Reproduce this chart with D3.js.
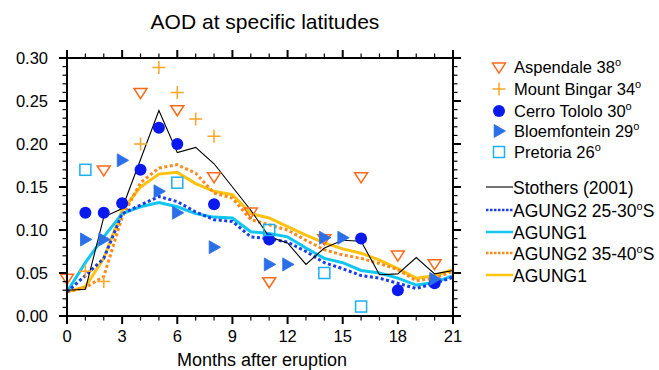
<!DOCTYPE html>
<html>
<head>
<meta charset="utf-8">
<script src="https://cdn.jsdelivr.net/npm/d3@7"></script>
<style>
  body { margin: 0; background: #fff; }
  svg { font-family: "Liberation Sans", Arial, sans-serif; }
</style>
</head>
<body>
<div id="container"></div>
<script>
// months 0..21
const months = d3.range(0, 22);

const stothers = [0.030, 0.031, 0.115, 0.125, 0.182, 0.239, 0.190, 0.196, 0.177, 0.150, 0.123, 0.092,
  0.085, 0.060, 0.079, 0.088, 0.087, 0.048, 0.049, 0.068, 0.049, 0.053];
const agung2_25 = [0.028, 0.047, 0.067, 0.119, 0.129, 0.139, 0.133, 0.121, 0.112, 0.110, 0.092, 0.090,
  0.086, 0.075, 0.062, 0.055, 0.047, 0.044, 0.038, 0.032, 0.038, 0.045];
const agung1_25 = [0.028, 0.062, 0.092, 0.119, 0.127, 0.132, 0.127, 0.119, 0.115, 0.114, 0.098, 0.096,
  0.092, 0.079, 0.067, 0.062, 0.053, 0.050, 0.044, 0.036, 0.039, 0.047];
const agung2_35 = [0.028, 0.033, 0.046, 0.115, 0.155, 0.172, 0.176, 0.166, 0.143, 0.137, 0.112, 0.106,
  0.100, 0.088, 0.077, 0.071, 0.067, 0.061, 0.054, 0.041, 0.044, 0.052];
const agung1_35 = [0.028, 0.034, 0.067, 0.123, 0.150, 0.165, 0.167, 0.154, 0.145, 0.141, 0.119, 0.114,
  0.104, 0.094, 0.085, 0.078, 0.073, 0.065, 0.055, 0.044, 0.047, 0.054];

// station observations [month, aod]
const aspendale = [[0, 0.044], [2, 0.17], [4, 0.26], [6, 0.24], [8, 0.162], [10, 0.121], [11, 0.04],
  [14, 0.09], [16, 0.162], [18, 0.071], [20, 0.061]];
const mountBingar = [[1, 0.052], [2, 0.04], [4, 0.2], [5, 0.289], [6, 0.26], [7, 0.229], [8, 0.209]];
const cerroTololo = [[1, 0.12], [2, 0.12], [3, 0.131], [4, 0.17], [5, 0.219], [6, 0.2], [8, 0.13],
  [11, 0.089], [16, 0.09], [18, 0.030], [20, 0.038]];
const bloemfontein = [[1, 0.089], [2, 0.089], [3, 0.181], [5, 0.145], [6, 0.12], [8, 0.08], [11, 0.06],
  [12, 0.06], [14, 0.091], [15, 0.091], [20, 0.043]];
const pretoria = [[1, 0.17], [6, 0.155], [11, 0.10], [14, 0.05], [16, 0.011]];

const xTicks = [0, 3, 6, 9, 12, 15, 18, 21];
const yTicks = [0, 0.05, 0.10, 0.15, 0.20, 0.25, 0.30];

const w = 659, h = 370;
const pL = 67, pR = 453, pT = 58, pB = 316;

const xScale = d3.scaleLinear().domain([0, 21]).range([pL, pR]);
const yScale = d3.scaleLinear().domain([0, 0.30]).range([pB, pT]);

const svg = d3.select("#container").append("svg")
  .attr("width", w).attr("height", h);

svg.append("text")
  .attr("x", 265).attr("y", 29)
  .attr("text-anchor", "middle")
  .style("font-size", "21px")
  .text("AOD at specific latitudes");

const plot = svg.append("g");

// model lines
const series = [
  { name: "AGUNG1", data: agung1_35, color: "#ffc20e", width: 3, dash: null },
  { name: "AGUNG2 35-40S", data: agung2_35, color: "#ff8a1c", width: 3, dash: "3,2.5" },
  { name: "AGUNG1", data: agung1_25, color: "#12c6f2", width: 3, dash: null },
  { name: "AGUNG2 25-30S", data: agung2_25, color: "#1a3ee8", width: 3, dash: "3,2.5" },
  { name: "Stothers", data: stothers, color: "#000", width: 1.1, dash: null }
];

const line = d3.line().x((d, i) => xScale(months[i])).y(d => yScale(d));

series.forEach(s => {
  plot.append("path")
    .datum(s.data)
    .attr("d", line)
    .attr("fill", "none")
    .attr("stroke", s.color)
    .attr("stroke-width", s.width)
    .attr("stroke-dasharray", s.dash);
});

// marker drawing helpers
function triDown(g, x, y, c) {
  const r = 6.5;
  g.append("path")
    .attr("d", `M${x - r},${y - r * 0.6}L${x + r},${y - r * 0.6}L${x},${y + r * 0.95}Z`)
    .attr("fill", "none").attr("stroke", c).attr("stroke-width", 1.5);
}
function plus(g, x, y, c) {
  const r = 6.5;
  g.append("path")
    .attr("d", `M${x - r},${y}H${x + r}M${x},${y - r}V${y + r}`)
    .attr("fill", "none").attr("stroke", c).attr("stroke-width", 1.5);
}
function dot(g, x, y, c) {
  g.append("circle").attr("cx", x).attr("cy", y).attr("r", 6).attr("fill", c);
}
function triRight(g, x, y, c) {
  const r = 6.5;
  g.append("path")
    .attr("d", `M${x - r * 0.75},${y - r}L${x + r},${y}L${x - r * 0.75},${y + r}Z`)
    .attr("fill", c).attr("stroke", c).attr("stroke-width", 0.8);
}
function square(g, x, y, c) {
  const r = 5.5;
  g.append("rect").attr("x", x - r).attr("y", y - r).attr("width", 2 * r).attr("height", 2 * r)
    .attr("fill", "none").attr("stroke", c).attr("stroke-width", 1.5);
}

const stations = [
  { label: "Aspendale 38", data: aspendale, color: "#ff6a1a", draw: triDown },
  { label: "Mount Bingar 34", data: mountBingar, color: "#ffa526", draw: plus },
  { label: "Cerro Tololo 30", data: cerroTololo, color: "#0a1aee", draw: dot },
  { label: "Bloemfontein 29", data: bloemfontein, color: "#2a6ee8", draw: triRight },
  { label: "Pretoria 26", data: pretoria, color: "#1ab0f5", draw: square }
];

stations.forEach(s => {
  s.data.forEach(d => s.draw(plot, xScale(d[0]), yScale(d[1]), s.color));
});

// frame
svg.append("rect")
  .attr("x", pL).attr("y", pT)
  .attr("width", pR - pL).attr("height", pB - pT)
  .attr("fill", "none").attr("stroke", "#000").attr("stroke-width", 2);

// ticks (all outward)
const tk = svg.append("g").attr("stroke", "#000");
d3.range(0, 22).forEach(m => {
  const major = m % 3 === 0;
  const len = major ? 8 : 4.5;
  const x = xScale(m);
  tk.append("line").attr("x1", x).attr("x2", x).attr("y1", pB).attr("y2", pB + len)
    .attr("stroke-width", major ? 2 : 1.2);
  tk.append("line").attr("x1", x).attr("x2", x).attr("y1", pT).attr("y2", pT - len)
    .attr("stroke-width", major ? 2 : 1.2);
});
d3.range(0, 31).forEach(k => {
  const v = k / 100;
  const major = k % 5 === 0;
  const len = major ? 8 : 4.5;
  const y = yScale(v);
  tk.append("line").attr("x1", pL).attr("x2", pL - len).attr("y1", y).attr("y2", y)
    .attr("stroke-width", major ? 2 : 1.2);
  tk.append("line").attr("x1", pR).attr("x2", pR + len).attr("y1", y).attr("y2", y)
    .attr("stroke-width", major ? 2 : 1.2);
});

svg.append("g").selectAll("text").data(xTicks).enter().append("text")
  .attr("x", d => xScale(d)).attr("y", 342)
  .attr("text-anchor", "middle").style("font-size", "16.5px")
  .text(d => d);

svg.append("g").selectAll("text").data(yTicks).enter().append("text")
  .attr("x", 48).attr("y", d => yScale(d) + 6)
  .attr("text-anchor", "end").style("font-size", "16.5px")
  .text(d => d.toFixed(2));

svg.append("text")
  .attr("x", 262).attr("y", 366)
  .attr("text-anchor", "middle").style("font-size", "18px")
  .text("Months after eruption");

// legend: stations
const legY = [67, 89, 111, 131, 152];
stations.forEach((s, i) => {
  s.draw(svg, 499, legY[i], s.color);
  const t = svg.append("text").attr("x", 514).attr("y", legY[i] + 6).style("font-size", "16.5px");
  t.append("tspan").text(s.label);
  t.append("tspan").attr("dy", -7).style("font-size", "11px").text("o");
});

// legend: lines
const lineLeg = [
  { text: ["Stothers (2001)"], color: "#000", width: 1.1, dash: null },
  { text: ["AGUNG2 25-30", "o", "S"], color: "#1a3ee8", width: 2.5, dash: "2.5,1.5" },
  { text: ["AGUNG1"], color: "#12c6f2", width: 2.5, dash: null },
  { text: ["AGUNG2 35-40", "o", "S"], color: "#ff8a1c", width: 2.5, dash: "2.5,1.5" },
  { text: ["AGUNG1"], color: "#ffc20e", width: 2.5, dash: null }
];
const lineY = [187, 210, 232, 253, 275];
lineLeg.forEach((l, i) => {
  svg.append("line").attr("x1", 486).attr("x2", 513).attr("y1", lineY[i]).attr("y2", lineY[i])
    .attr("stroke", l.color).attr("stroke-width", l.width).attr("stroke-dasharray", l.dash);
  const t = svg.append("text").attr("x", 513).attr("y", lineY[i] + 6.5).style("font-size", "17.5px");
  t.append("tspan").text(l.text[0]);
  if (l.text.length > 1) {
    t.append("tspan").attr("dy", -7).style("font-size", "11px").text(l.text[1]);
    t.append("tspan").attr("dy", 7).text(l.text[2]);
  }
});
</script>
</body>
</html>
